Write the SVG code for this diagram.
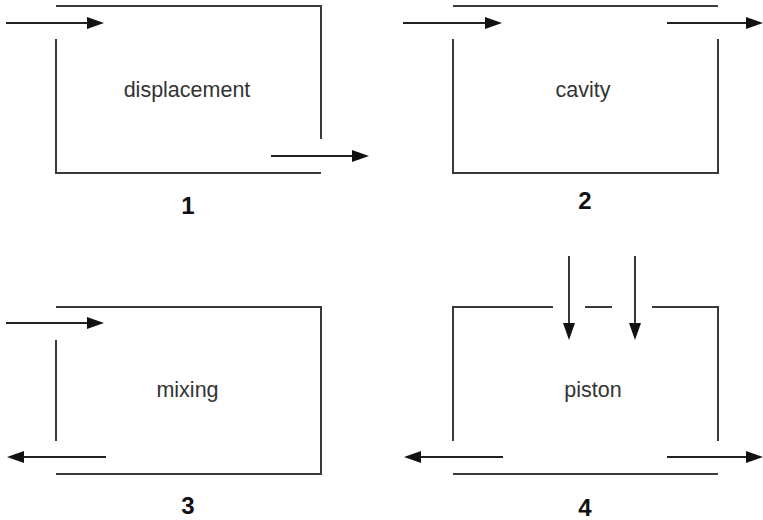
<svg xmlns="http://www.w3.org/2000/svg" width="763" height="520" viewBox="0 0 763 520">
  <style>
    .wall { fill: none; stroke: #3a3a3a; stroke-width: 2; }
    .flow { fill: none; stroke: #222; stroke-width: 1.8; marker-end: url(#head); }
    .label { font-family: "Liberation Sans", Arial, sans-serif; font-size: 21.5px; fill: #333; text-anchor: middle; }
    .num { font-family: "Liberation Sans", Arial, sans-serif; font-size: 24px; font-weight: bold; fill: #111; text-anchor: middle; }
  </style>
  <defs>
    <marker id="head" markerUnits="userSpaceOnUse" markerWidth="17" markerHeight="12" refX="13" refY="6" orient="auto">
      <path d="M0,0 L17,6 L0,12 Z" fill="#111"/>
    </marker>
  </defs>
  <rect width="763" height="520" fill="#fff"/>

  <!-- 1: displacement -->
  <g id="displacement">
    <path class="wall" d="M56,6 H321 V139"/>
    <path class="wall" d="M56,39 V173 H321"/>
    <text class="label" x="187" y="97">displacement</text>
    <text class="num" x="188" y="214">1</text>
  </g>

  <!-- 2: cavity -->
  <g id="cavity">
    <path class="wall" d="M453,6 H718"/>
    <path class="wall" d="M453,39 V173 H718 V39"/>
    <text class="label" x="583" y="97">cavity</text>
    <text class="num" x="585" y="209">2</text>
  </g>

  <!-- 3: mixing -->
  <g id="mixing">
    <path class="wall" d="M56,307 H321 V474 H56"/>
    <path class="wall" d="M56,340 V441"/>
    <text class="label" x="187.5" y="397">mixing</text>
    <text class="num" x="188" y="514">3</text>
  </g>

  <!-- 4: piston -->
  <g id="piston">
    <path class="wall" d="M453,441 V307 H553"/>
    <path class="wall" d="M585,307 H612"/>
    <path class="wall" d="M652,307 H718 V441"/>
    <path class="wall" d="M453,474 H718"/>
    <text class="label" x="593" y="397">piston</text>
    <text class="num" x="585" y="516">4</text>
  </g>

  <!-- flow arrows -->
  <g id="connectors">
    <path class="flow" d="M6,23 H100"/>
    <path class="flow" d="M271,156 H365"/>
    <path class="flow" d="M403,23 H498"/>
    <path class="flow" d="M667,23 H759"/>
    <path class="flow" d="M6,323 H100"/>
    <path class="flow" d="M106,457 H11"/>
    <path class="flow" d="M569,256 V336"/>
    <path class="flow" d="M635,256 V336"/>
    <path class="flow" d="M503,457 H408"/>
    <path class="flow" d="M667,457 H759"/>
  </g>
</svg>
